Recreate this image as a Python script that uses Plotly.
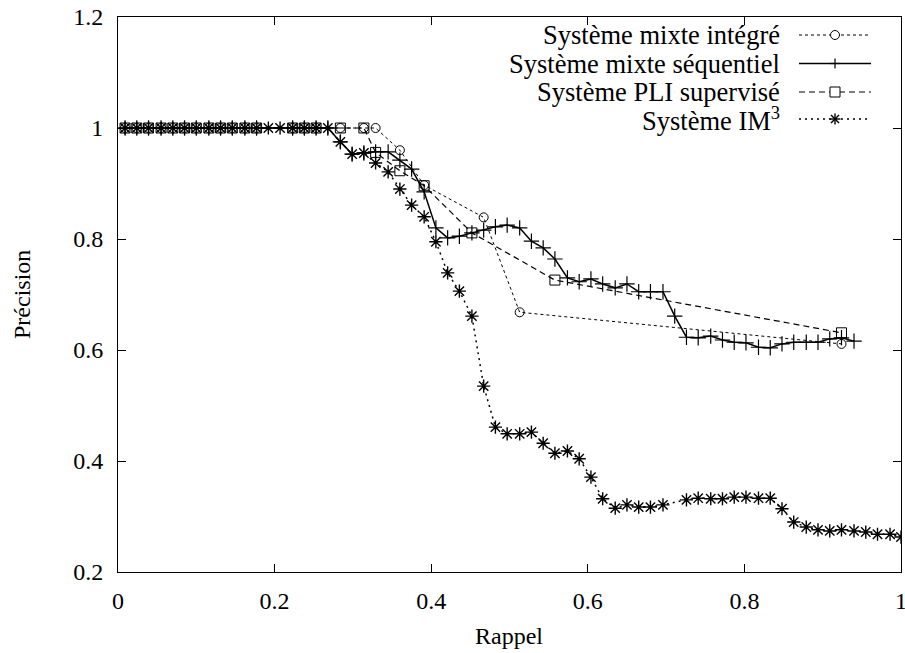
import plotly.graph_objects as go

# ---------------- data ----------------
integre_x = [0.009, 0.024, 0.039, 0.055, 0.070, 0.085, 0.100, 0.116, 0.131, 0.146, 0.162, 0.177,
             0.223, 0.238, 0.253, 0.284, 0.314, 0.329, 0.360, 0.391, 0.467, 0.513, 0.924]
integre_y = [1.0, 1.0, 1.0, 1.0, 1.0, 1.0, 1.0, 1.0, 1.0, 1.0, 1.0, 1.0,
             1.0, 1.0, 1.0, 1.0, 1.0, 1.0, 0.960, 0.897, 0.839, 0.668, 0.611]

sequentiel_x = [0.009, 0.024, 0.039, 0.055, 0.070, 0.085, 0.100, 0.116, 0.131, 0.146, 0.162, 0.177,
                0.223, 0.238, 0.253, 0.268, 0.284, 0.299, 0.314, 0.329, 0.345, 0.360, 0.375, 0.391,
                0.406, 0.421, 0.436, 0.452, 0.467, 0.482, 0.497, 0.513, 0.528, 0.543, 0.558, 0.574,
                0.589, 0.604, 0.619, 0.635, 0.650, 0.665, 0.680, 0.696, 0.711, 0.726, 0.741, 0.757,
                0.772, 0.787, 0.802, 0.818, 0.833, 0.848, 0.863, 0.879, 0.894, 0.909, 0.924, 0.940]
sequentiel_y = [1.0, 1.0, 1.0, 1.0, 1.0, 1.0, 1.0, 1.0, 1.0, 1.0, 1.0, 1.0,
                1.0, 1.0, 1.0, 1.0, 0.975, 0.953, 0.955, 0.957, 0.957, 0.942, 0.926, 0.885,
                0.820, 0.802, 0.805, 0.811, 0.816, 0.822, 0.825, 0.820, 0.796, 0.784, 0.764, 0.730,
                0.723, 0.728, 0.719, 0.712, 0.719, 0.705, 0.705, 0.705, 0.661, 0.623, 0.622, 0.625,
                0.618, 0.614, 0.613, 0.605, 0.604, 0.611, 0.614, 0.614, 0.614, 0.620, 0.622, 0.616]

pli_x = [0.009, 0.024, 0.039, 0.055, 0.070, 0.085, 0.100, 0.116, 0.131, 0.146, 0.162, 0.177,
         0.223, 0.238, 0.253, 0.284, 0.314, 0.329, 0.360, 0.391, 0.452, 0.558, 0.924]
pli_y = [1.0, 1.0, 1.0, 1.0, 1.0, 1.0, 1.0, 1.0, 1.0, 1.0, 1.0, 1.0,
         1.0, 1.0, 1.0, 1.0, 1.0, 0.956, 0.923, 0.896, 0.811, 0.726, 0.631]

im3_x = [0.009, 0.024, 0.039, 0.055, 0.070, 0.085, 0.100, 0.116, 0.131, 0.146, 0.162, 0.177,
         0.192, 0.207, 0.223, 0.238, 0.253, 0.268, 0.284, 0.299, 0.314, 0.329, 0.345, 0.360,
         0.375, 0.391, 0.406, 0.421, 0.436, 0.452, 0.467, 0.482, 0.497, 0.513, 0.528, 0.543,
         0.558, 0.574, 0.589, 0.604, 0.619, 0.635, 0.650, 0.665, 0.680, 0.696, 0.726, 0.741,
         0.757, 0.772, 0.787, 0.802, 0.818, 0.833, 0.848, 0.863, 0.879, 0.894, 0.909, 0.924,
         0.940, 0.955, 0.970, 0.986, 1.000]
im3_y = [1.0, 1.0, 1.0, 1.0, 1.0, 1.0, 1.0, 1.0, 1.0, 1.0, 1.0, 1.0,
         1.0, 1.0, 1.0, 1.0, 1.0, 1.0, 0.975, 0.953, 0.955, 0.937, 0.921, 0.890,
         0.861, 0.840, 0.795, 0.739, 0.706, 0.661, 0.535, 0.461, 0.449, 0.449, 0.452, 0.432,
         0.414, 0.418, 0.404, 0.371, 0.332, 0.315, 0.321, 0.317, 0.317, 0.321, 0.330, 0.333,
         0.332, 0.332, 0.335, 0.335, 0.333, 0.333, 0.314, 0.290, 0.281, 0.276, 0.274, 0.276,
         0.274, 0.272, 0.268, 0.268, 0.263]

series_names = ["Système mixte intégré", "Système mixte séquentiel",
                "Système PLI supervisé", "Système IM<sup>3</sup>"]
x_ticks = [0, 0.2, 0.4, 0.6, 0.8, 1]
y_ticks = [0.2, 0.4, 0.6, 0.8, 1, 1.2]
x_title = "Rappel"
y_title = "Précision"

# ---------------- styles ----------------
FONT = "Liberation Serif"
styles = [
    dict(dash="dot", width=1.0, symbol="circle-open", size=9, mlw=1.0),
    dict(dash="solid", width=1.5, symbol="cross-thin-open", size=11, mlw=1.2),
    dict(dash="6px,4px", width=1.2, symbol="square-open", size=10, mlw=1.0),
    dict(dash="2px,4px", width=1.5, symbol="asterisk-open", size=11, mlw=1.4),
]
data = [(integre_x, integre_y), (sequentiel_x, sequentiel_y), (pli_x, pli_y), (im3_x, im3_y)]

fig = go.Figure()
for (xs, ys), st, name in zip(data, styles, series_names):
    fig.add_trace(go.Scatter(
        x=xs, y=ys, name=name, mode="lines+markers",
        line=dict(color="black", width=st["width"], dash=st["dash"]),
        marker=dict(symbol=st["symbol"], size=st["size"], color="black",
                    line=dict(color="black", width=st["mlw"])),
        showlegend=False,
    ))

# ---------------- legend drawn like gnuplot (text right, sample left->right) ----------------
L, R, T, B = 118, 905 - 901, 17, 653 - 572
W, H = 905 - L - R, 653 - T - B
def px(xp): return (xp - L) / W
def py(yp): return (653 - B - yp) / H

rows = [35, 63.5, 92, 119]
text_right = 782
line_x0, line_x1, mark_x = 799, 871, 835
shapes, annots = [], []
for i, (name, st) in enumerate(zip(series_names, styles)):
    yc = py(rows[i])
    annots.append(dict(x=px(text_right), y=yc, xref="paper", yref="paper", text=name,
                       showarrow=False, xanchor="right", yanchor="middle",
                       font=dict(family=FONT, size=26.5, color="black")))
    shapes.append(dict(type="line", xref="paper", yref="paper", x0=px(line_x0), x1=px(line_x1),
                       y0=yc, y1=yc, line=dict(color="black", width=st["width"], dash=st["dash"])))
    def pl(dx0, dy0, dx1, dy1, w=1.0):
        shapes.append(dict(type="line", xref="paper", yref="paper", xsizemode="pixel", ysizemode="pixel",
                           xanchor=px(mark_x), yanchor=yc, x0=dx0, x1=dx1, y0=dy0, y1=dy1,
                           line=dict(color="black", width=w)))
    if i == 0:
        shapes.append(dict(type="circle", xref="paper", yref="paper", xsizemode="pixel", ysizemode="pixel",
                           xanchor=px(mark_x), yanchor=yc, x0=-4.5, x1=4.5, y0=-4.5, y1=4.5,
                           fillcolor="white", line=dict(color="black", width=1)))
    elif i == 1:
        pl(-5, 0, 5, 0, 1.2); pl(0, -5, 0, 5, 1.2)
    elif i == 2:
        shapes.append(dict(type="rect", xref="paper", yref="paper", xsizemode="pixel", ysizemode="pixel",
                           xanchor=px(mark_x), yanchor=yc, x0=-5, x1=5, y0=-5, y1=5,
                           fillcolor="white", line=dict(color="black", width=1)))
    else:
        pl(-5.5, 0, 5.5, 0, 1.4); pl(0, -5.5, 0, 5.5, 1.4); pl(-4, -4, 4, 4, 1.4); pl(-4, 4, 4, -4, 1.4)

# axis titles placed like gnuplot
annots.append(dict(x=px(509), y=py(636), xref="paper", yref="paper", text=x_title, showarrow=False,
                   xanchor="center", yanchor="middle", font=dict(family=FONT, size=24, color="black")))
annots.append(dict(x=px(22), y=py(295), xref="paper", yref="paper", text=y_title, showarrow=False,
                   textangle=-90, xanchor="center", yanchor="middle",
                   font=dict(family=FONT, size=24, color="black")))

axis_common = dict(showline=True, linecolor="black", linewidth=1, mirror="allticks",
                   ticks="inside", ticklen=8, tickcolor="black", tickwidth=1,
                   showgrid=False, zeroline=False, automargin=False, ticklabeloverflow="allow",
                   tickfont=dict(family=FONT, size=24, color="black"))

fig.update_layout(
    width=905, height=653,
    margin=dict(l=L, r=R, t=T, b=B),
    paper_bgcolor="white", plot_bgcolor="white",
    showlegend=False,
    xaxis=dict(range=[0, 1], tickvals=x_ticks, ticktext=[str(v) for v in x_ticks],
               ticklabelstandoff=7, **axis_common),
    yaxis=dict(range=[0.2, 1.2], tickvals=y_ticks, ticktext=[str(v) for v in y_ticks],
               ticklabelstandoff=9, **axis_common),
    shapes=shapes, annotations=annots,
)

fig.write_html("out.html", config={"displayModeBar": False},
               post_script="document.body.style.margin='0';document.body.style.overflow='hidden';")
